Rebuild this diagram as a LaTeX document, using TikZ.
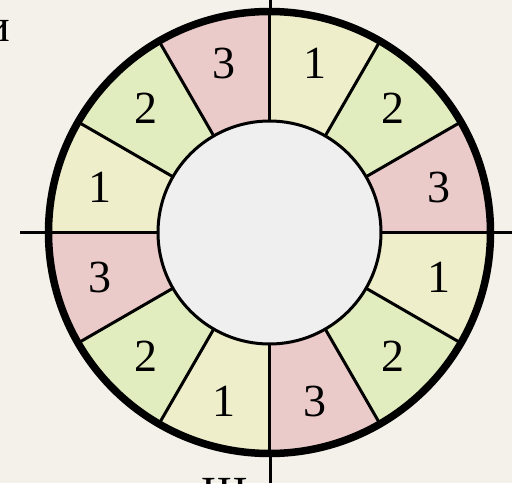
\documentclass[tikz,border=0pt]{standalone}
\usepackage{fontspec}
\setmainfont{Liberation Serif}
\usetikzlibrary{calc}
\begin{document}
\begin{tikzpicture}[x=1pt,y=1pt,
  lbl/.style={font=\fontsize{46}{46}\selectfont, inner sep=0pt},
  axis/.style={line width=3pt, black},
  div/.style={line width=3pt, black}]
\definecolor{bg}{HTML}{F4F1EA}
\definecolor{cpink}{HTML}{EBCACA}
\definecolor{cgreen}{HTML}{E2EDBF}
\definecolor{cyellow}{HTML}{EEEECB}
\definecolor{cinner}{HTML}{EFEFEF}
\fill[bg] (0,0) rectangle (512,483);
\useasboundingbox (0,0) rectangle (512,483);
\coordinate (c) at (269.5,250.5);
\coordinate (xl) at (20,250);
\coordinate (xr) at (512,250);
\coordinate (yt) at (270,483);
\coordinate (yb) at (270,0);
\draw[axis] (xl) -- (xr);
\draw[axis] (yt) -- (yb);
\foreach \i in {0,...,11}{
  \pgfmathtruncatemacro{\m}{mod(\i,3)}
  \ifcase\m
    \def\col{cpink}\def\txt{3}
  \or
    \def\col{cgreen}\def\txt{2}
  \else
    \def\col{cyellow}\def\txt{1}
  \fi
  \pgfmathsetmacro{\a}{30*\i}
  \pgfmathsetmacro{\b}{30*\i+30}
  \fill[\col] (c) -- ++(\a:221) arc[start angle=\a, end angle=\b, radius=221] -- cycle;
  \node[lbl] (l\i) at ($(c)+(\a+15:175)$) {\txt};
}
\foreach \i in {0,...,11}{
  \draw[div] (c) -- ++(30*\i:221);
}
\draw[line width=3pt, fill=cinner] (c) circle[radius=111.5];
\draw[line width=7.5pt] (c) circle[radius=221];
\node[lbl, anchor=east] (t1) at (10,452) {и};
\node[lbl, anchor=north] (t2) at (225,5) {Ш};
\end{tikzpicture}
\end{document}
